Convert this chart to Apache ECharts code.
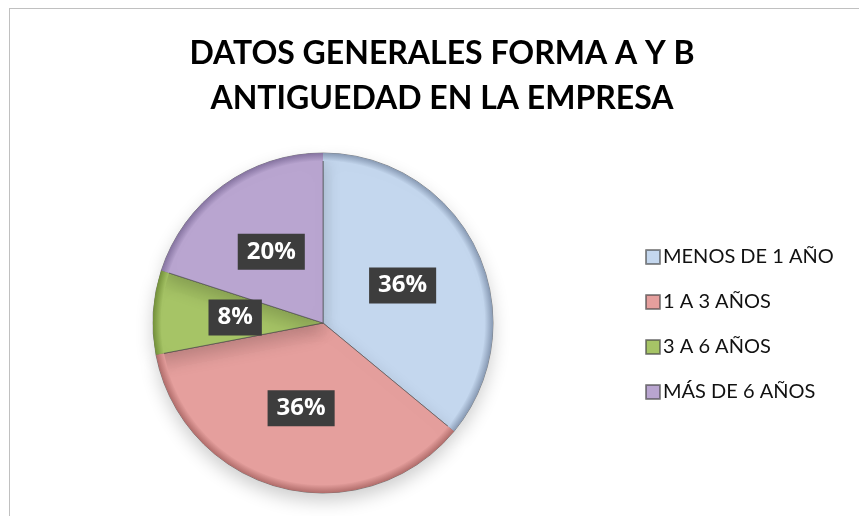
<!DOCTYPE html>
<html>
<head>
<meta charset="utf-8">
<script src="https://cdn.jsdelivr.net/npm/echarts@6/dist/echarts.min.js"></script>
<style>
  html, body { margin: 0; padding: 0; background: #fff; }
  #frame { position: absolute; left: 9px; top: 8px; width: 900px; height: 560px;
           border-left: 1px solid #c0c0c0; border-top: 1px solid #c0c0c0; }
  #chart { position: absolute; left: 0; top: 0; width: 859px; height: 516px; }
</style>
</head>
<body>
<div id="frame"></div>
<div id="chart"></div>
<script>
const categories = ['MENOS DE 1 AÑO', '1 A 3 AÑOS', '3 A 6 AÑOS', 'MÁS DE 6 AÑOS']
const values = [36, 36, 8, 20]
const titleLines = ['DATOS GENERALES FORMA A Y B', 'ANTIGUEDAD EN LA EMPRESA']

const FILL = ['#c4d7ee', '#e59f9d', '#a6c466', '#b9a5d0']
const EDGE = ['#8799b3', '#b06c6a', '#73903a', '#8573a0']

const center = [323, 323]

const chart = echarts.init(document.getElementById('chart'))
chart.setOption({
  animation: false,
  title: {
    text: titleLines.join('\n'),
    left: 437,
    textAlign: 'center',
    top: 26,
    textStyle: {
      fontFamily: 'Lato',
      fontWeight: 'bold',
      fontSize: 32,
      lineHeight: 45,
      color: '#000'
    }
  },
  legend: {
    orient: 'vertical',
    left: 640,
    top: 242,
    itemWidth: 14,
    itemHeight: 14,
    itemGap: 25,
    icon: 'rect',
    textStyle: { fontFamily: 'Lato', fontSize: 20, color: '#111', padding: [0, 0, 0, -2] },
    data: categories
  },
  series: [
    {
      type: 'pie',
      center: center,
      radius: [0, 170],
      startAngle: 90,
      clockwise: true,
      data: categories.map((name, idx) => ({
        name: name,
        value: values[idx],
        itemStyle: { color: FILL[idx] }
      })),
      itemStyle: {
        borderColor: 'rgba(70,70,70,0.6)',
        borderWidth: 1,
        shadowBlur: 18,
        shadowColor: 'rgba(0,0,0,0.2)',
        shadowOffsetY: 8
      },
      label: {
        show: true,
        position: 'inside',
        formatter: '{d}%',
        fontFamily: 'Open Sans',
        fontWeight: 'bold',
        fontSize: 24,
        color: '#fff',
        backgroundColor: '#3d3d3d',
        padding: [7, 9, 5, 9]
      },
      labelLine: { show: false },
      emphasis: { disabled: true },
      z: 2
    },
    {
      // bevelled rim
      type: 'pie',
      center: center,
      radius: [162, 170],
      startAngle: 90,
      clockwise: true,
      silent: true,
      data: categories.map((name, idx) => ({
        name: name,
        value: values[idx],
        itemStyle: {
          color: {
            type: 'radial', x: center[0], y: center[1], r: 170, global: true,
            colorStops: [
              { offset: 0.95, color: FILL[idx] },
              { offset: 1, color: EDGE[idx] }
            ]
          }
        }
      })),
      itemStyle: { borderWidth: 0 },
      label: { show: false },
      labelLine: { show: false },
      emphasis: { disabled: true },
      z: 3
    }
  ]
})
</script>
</body>
</html>
